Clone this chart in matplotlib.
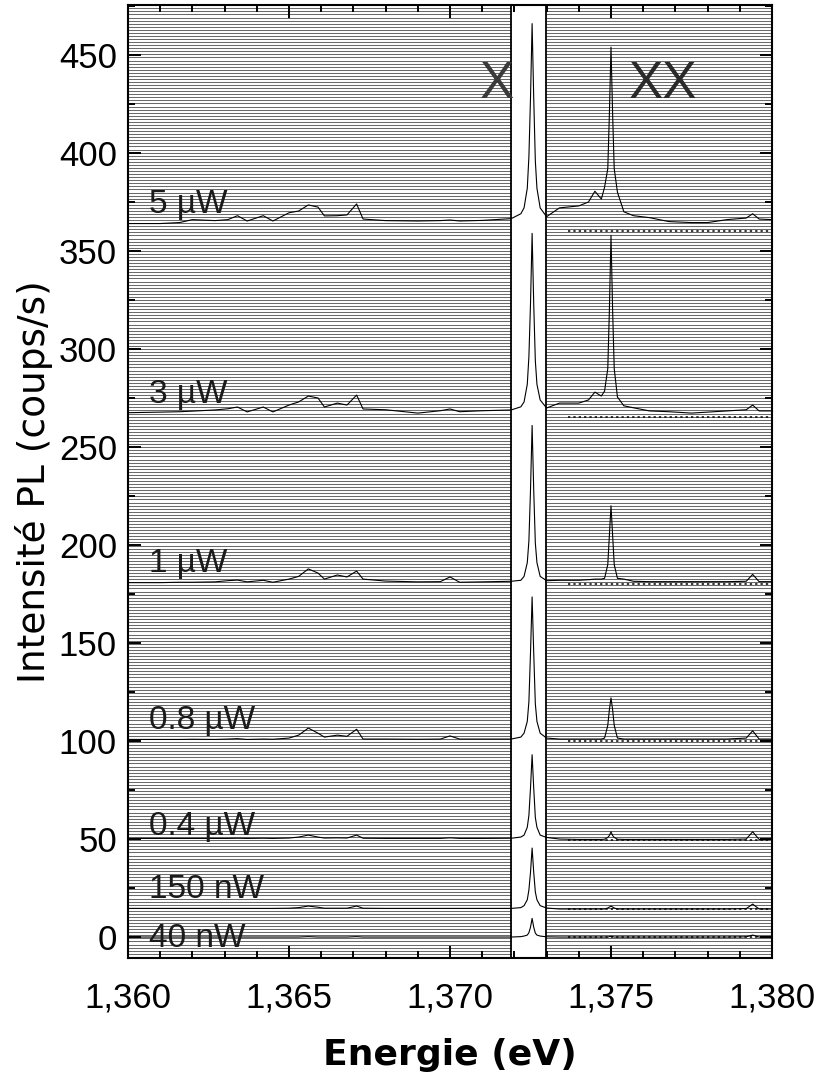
import numpy as np
import matplotlib
matplotlib.use("Agg")
import matplotlib.pyplot as plt
from matplotlib.ticker import MultipleLocator

plt.rcParams['font.family'] = ['Liberation Sans', 'DejaVu Sans']

# ---------------- data ----------------
energy = [1.3600, 1.3610, 1.3616, 1.3620, 1.3627, 1.3631, 1.3634, 1.3637, 1.3642, 1.3645,
          1.3650, 1.3653, 1.3656, 1.3659, 1.3661, 1.3665, 1.3668, 1.3671, 1.3673, 1.3680,
          1.3690, 1.3697, 1.3700, 1.3703, 1.3710, 1.3719,
          1.3722, 1.3723, 1.3724, 1.37245, 1.3725, 1.37255, 1.3726, 1.37265, 1.3727, 1.3728, 1.3730,
          1.3734, 1.3740, 1.3743, 1.3745, 1.3747, 1.3748, 1.3749, 1.37495, 1.3750, 1.37505,
          1.3751, 1.3752, 1.3754, 1.3757, 1.3762, 1.3768, 1.3775, 1.3780, 1.3786, 1.3792,
          1.3794, 1.3796, 1.3800]

spec_5uW = [364, 364, 364.5, 366, 365.5, 366, 368, 365.3, 368, 365.3,
            369.5, 370.4, 373.5, 372.4, 367.9, 368, 368.4, 374, 366.3, 365.5,
            365.3, 365.5, 365.8, 365.3, 365.6, 366.5,
            369, 372, 382, 398, 428, 466, 428, 396, 382, 372, 367.5,
            372, 373, 375, 380.5, 376.5, 382.5, 392, 420, 454, 420,
            392, 380, 370, 368, 367, 365, 364.5, 364.5, 366, 366.8,
            369, 366.3, 366]

spec_3uW = [267.5, 267.8, 268, 268.3, 268.9, 269.5, 270.4, 267.9, 270.4, 267.9,
            271.4, 273, 276, 275, 270.4, 272.4, 271.4, 276.5, 269.4, 269,
            267.3, 268.5, 269.4, 268, 268.5, 268.9,
            270.5, 273, 282, 296, 323, 359, 323, 294, 282, 274, 269.9,
            272.4, 272.4, 274, 278, 276, 278.5, 290, 320, 358, 320,
            290, 275.5, 271, 270, 268.4, 268, 267.3, 267.8, 268.4, 269,
            271.4, 268.4, 268.4]

spec_1uW = [180.8, 180.8, 181, 181, 181.2, 181.8, 182.1, 181.2, 182, 181,
            182.6, 184, 187.8, 185.7, 182.6, 184.7, 183.7, 186.7, 182.6, 181.6,
            181.2, 181.3, 183.7, 181, 181.2, 181.5,
            182, 184, 191, 202, 228, 261, 228, 201, 191, 184, 181.8,
            182, 182, 182.3, 182.6, 182.6, 183, 190, 205, 220, 205,
            190, 183, 182.6, 181.5, 181.3, 181.3, 181.3, 181.3, 181.3, 181.5,
            185, 181.3, 181.3]

spec_08uW = [100.8, 100.8, 100.8, 100.9, 100.8, 101, 101.2, 100.8, 101, 100.9,
             101.5, 103, 106.6, 104, 102, 103, 102.4, 106, 101, 101,
             100.9, 101, 102.6, 101, 101, 101,
             102, 104, 110, 120, 145, 173.5, 145, 119, 110, 104, 101.5,
             101, 101, 101, 101, 101, 101.5, 108, 116, 122, 116,
             108, 101.5, 101, 101, 101, 101, 101, 101, 101, 101.5,
             105.2, 101, 101]

spec_04uW = [50.3, 50.3, 50.3, 50.3, 50.3, 50.3, 50.4, 50.3, 50.4, 50.3,
             50.5, 51, 52, 51, 50.5, 50.6, 50.5, 52, 50.4, 50.3,
             50.3, 50.3, 50.6, 50.3, 50.3, 50.4,
             51, 52, 56, 62, 76, 93, 76, 61, 56, 52, 50.8,
             50, 49.8, 49.8, 49.8, 49.8, 49.9, 50.8, 51.8, 53.7, 51.8,
             50.8, 49.9, 49.8, 49.8, 49.8, 49.8, 49.8, 49.8, 49.8, 50,
             53.7, 49.8, 49.8]

spec_150nW = [14.6, 14.6, 14.6, 14.6, 14.6, 14.6, 14.6, 14.6, 14.6, 14.6,
              14.7, 15, 15.8, 15.2, 14.7, 14.7, 14.7, 15.8, 14.7, 14.6,
              14.6, 14.6, 14.6, 14.6, 14.6, 14.6,
              15, 16, 19, 24, 33, 45.4, 33, 23, 19, 16, 14.8,
              14.3, 14.3, 14.3, 14.3, 14.3, 14.3, 14.8, 15.3, 15.8, 15.3,
              14.8, 14.3, 14.3, 14.3, 14.3, 14.3, 14.3, 14.3, 14.3, 14.5,
              16.8, 14.3, 14.3]

spec_40nW = [0, 0, 0, 0, 0, 0, 0, 0, 0, 0,
             0, 0, 0.2, 0, 0, 0, 0, 0.2, 0, 0,
             0, 0, 0, 0, 0, 0,
             0.2, 0.5, 1, 2.2, 5, 9.5, 5, 2, 1, 0.5, 0.1,
             0, 0, 0, 0, 0, 0, 0, 0.2, 0.4, 0.2,
             0, 0, 0, 0, 0, 0, 0, 0, 0, 0.1,
             1, 0, 0]

spectra = [spec_5uW, spec_3uW, spec_1uW, spec_08uW, spec_04uW, spec_150nW, spec_40nW]
power_labels = ['5 µW', '3 µW', '1 µW', '0.8 µW', '0.4 µW', '150 nW', '40 nW']
label_levels = [369.5, 272.5, 186, 106, 52, 20, -5]
ref_levels = [360, 265.3, 180, 100, 49.5, 14.3, 0]

band_lo, band_hi = 1.37189, 1.37298
xticks = [1.360, 1.365, 1.370, 1.375, 1.380]
xtick_labels = ['1,360', '1,365', '1,370', '1,375', '1,380']
yticks = [0, 50, 100, 150, 200, 250, 300, 350, 400, 450]

# ---------------- figure ----------------
fig = plt.figure(figsize=(8.14, 10.83), dpi=100)
ax = fig.add_axes([128 / 814, 1 - 958 / 1083, (772 - 128) / 814, (958 - 5) / 1083])
ax.set_xlim(1.360, 1.380)
ax.set_ylim(-10.7, 475.5)

# hatched background (horizontal lines) outside the white band
hy = np.arange(-10.7 + 0.6, 475.5, 1.566)
ax.hlines(hy, 1.360, band_lo, colors='#6a6a6a', lw=0.75, zorder=0)
ax.hlines(hy, band_hi, 1.380, colors='#6a6a6a', lw=0.75, zorder=0)
ax.axvline(band_lo, color='black', lw=1.3, zorder=3)
ax.axvline(band_hi, color='black', lw=1.3, zorder=3)

# reference dotted lines on the right
for lvl in ref_levels:
    ax.hlines(lvl, 1.37365, 1.380, colors='black', lw=1.1, linestyles=(0, (1.5, 2.0)), zorder=2)

for s in spectra:
    ax.plot(energy, s, color='black', lw=0.8, zorder=4)

for lab, lvl in zip(power_labels, label_levels):
    ax.text(1.36066, lvl, lab, fontsize=24, color='#1a1a1a', ha='left', va='baseline', zorder=5)

ax.text(1.37200, 428, 'X', fontsize=37, color='#3a3a3a', ha='right', va='baseline', zorder=5)
ax.text(1.37555, 428, 'XX', fontsize=37, color='#2a2a2a', ha='left', va='baseline', zorder=5)

ax.set_xticks(xticks)
ax.set_xticklabels(xtick_labels)
ax.set_yticks(yticks)
ax.xaxis.set_minor_locator(MultipleLocator(0.001))
ax.yaxis.set_minor_locator(MultipleLocator(25))
ax.tick_params(which='both', direction='in', top=True, right=True, width=1.4, labelsize=25)
ax.tick_params(axis='x', which='major', pad=17)
ax.tick_params(axis='y', which='major', pad=8)
ax.tick_params(which='major', length=9)
ax.tick_params(which='minor', length=5)
for sp in ax.spines.values():
    sp.set_linewidth(1.5)

ax.set_ylabel('Intensité PL (coups/s)', fontsize=27, family=['DejaVu Sans'], labelpad=4)
ax.set_xlabel('Energie (eV)', fontsize=26, fontweight='bold', family=['DejaVu Sans'], labelpad=17)

fig.savefig('out.png', dpi=100)
